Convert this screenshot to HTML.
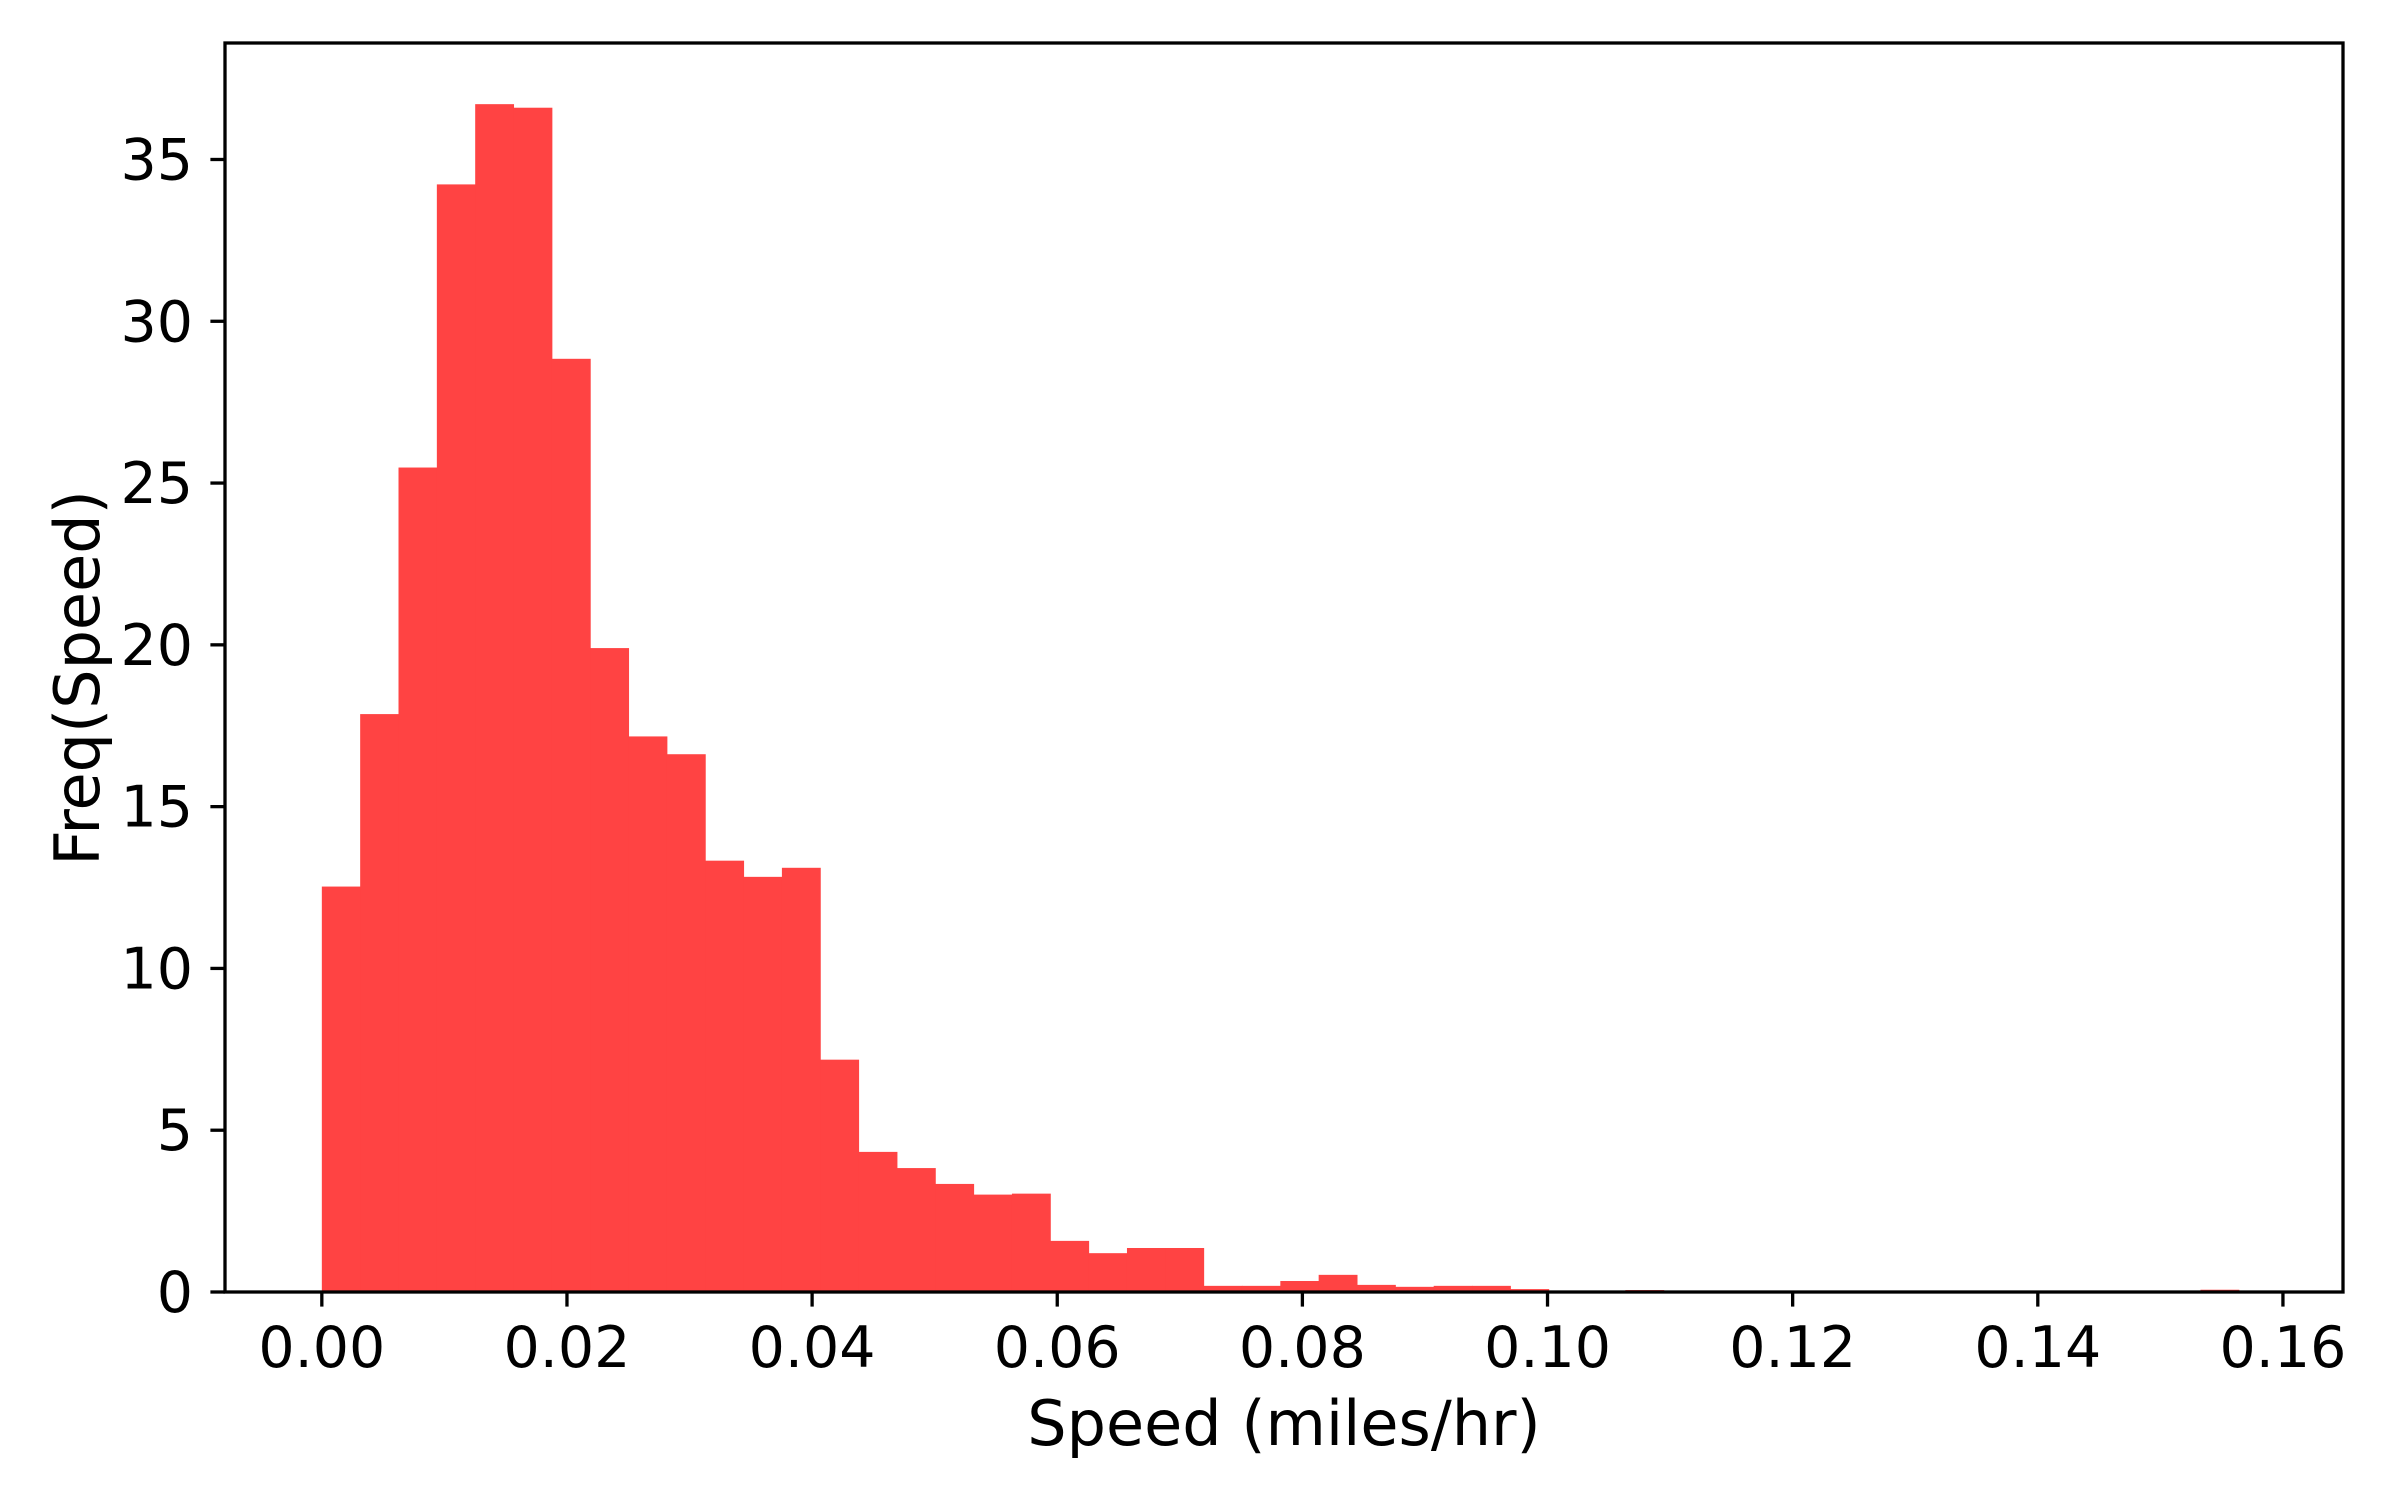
<!DOCTYPE html>
<html><head><meta charset="utf-8"><style>
html,body{margin:0;padding:0;background:#fff;}
svg{display:block;}
text{font-family:"DejaVu Sans","Liberation Sans",sans-serif;fill:#000;}
</style></head>
<body>
<svg id="chart" width="2400" height="1500" viewBox="0 0 2400 1500" xmlns="http://www.w3.org/2000/svg">
<g id="bars"></g>
<g id="axes"></g>
</svg>
<script>
const binCount = 50;
const binWidthValue = 0.003128;
const freqValues = [12.53,17.86,25.48,34.23,36.71,36.6,28.84,19.9,17.17,16.62,13.33,12.83,13.11,7.18,4.33,3.83,3.34,3.01,3.04,1.58,1.2,1.36,1.36,0.19,0.19,0.34,0.53,0.22,0.16,0.19,0.19,0.09,0,0,0.06,0,0,0,0,0,0,0,0,0,0,0,0,0,0,0.07];
const xTicks = [0,0.02,0.04,0.06,0.08,0.10,0.12,0.14,0.16];
const xTickLabels = ["0.00","0.02","0.04","0.06","0.08","0.10","0.12","0.14","0.16"];
const yTicks = [0,5,10,15,20,25,30,35];
const yTickLabels = ["0","5","10","15","20","25","30","35"];

const L=225,R=2343,T=43,B=1292;
const xMin=-0.0079,xMax=0.1649,yMin=0,yMax=38.6;
const xs=v=>L+(v-xMin)/(xMax-xMin)*(R-L);
const ys=v=>B-(v-yMin)/(yMax-yMin)*(B-T);
const NS="http://www.w3.org/2000/svg";
const barsG=document.getElementById('bars');
const axesG=document.getElementById('axes');
function mk(tag,attrs,parent){const e=document.createElementNS(NS,tag);for(const k in attrs)e.setAttribute(k,attrs[k]);parent.appendChild(e);return e;}

freqValues.forEach((v,i)=>{
  if(v<=0)return;
  const x0=xs(i*binWidthValue),x1=xs((i+1)*binWidthValue);
  const r=mk('rect',{x:x0,y:ys(v),width:x1-x0+0.5,height:ys(0)-ys(v),fill:'#ff4343'},barsG);
  
  
});

const frame=mk('rect',{x:L,y:T,width:R-L,height:B-T,fill:'none',stroke:'#000','stroke-width':3.3},axesG);



xTicks.forEach((t,i)=>{
  const x=xs(t);
  const ln=mk('line',{x1:x,y1:B,x2:x,y2:B+14.6,stroke:'#000','stroke-width':3.3},axesG);
  
  
  const tx=mk('text',{x:x,y:1367,'font-size':57,'text-anchor':'middle'},axesG);
  tx.textContent=xTickLabels[i];
  
  
});
yTicks.forEach((t,i)=>{
  const y=ys(t);
  const ln=mk('line',{x1:L,y1:y,x2:L-14.6,y2:y,stroke:'#000','stroke-width':3.3},axesG);
  
  
  const tx=mk('text',{x:193,y:y+20,'font-size':57,'text-anchor':'end'},axesG);
  tx.textContent=yTickLabels[i];
  
  
});
const xl=mk('text',{x:1284,y:1445,'font-size':62,'text-anchor':'middle'},axesG);
xl.textContent='Speed (miles/hr)';


const yl=mk('text',{x:0,y:0,'font-size':62,'text-anchor':'middle',transform:'translate(99,678) rotate(-90)'},axesG);
yl.textContent='Freq(Speed)';


</script>
</body></html>
